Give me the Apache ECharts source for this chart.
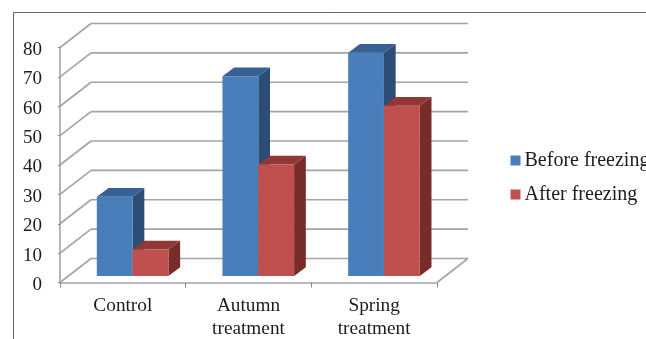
<!DOCTYPE html>
<html>
<head>
<meta charset="utf-8">
<style>html,body{margin:0;padding:0;background:#fff;overflow:hidden}#c{width:646px;height:339px;filter:blur(0.45px)}</style>
<script src="https://cdn.jsdelivr.net/npm/echarts@6/dist/echarts.min.js"></script>
</head>
<body>
<div id="c"></div>
<script>
const categories = ['Control', 'Autumn\ntreatment', 'Spring\ntreatment'];
const beforeFreezing = [27, 68, 76];
const afterFreezing = [9, 38, 58];
const yTicks = [0, 10, 20, 30, 40, 50, 60, 70, 80];

const WALL_DX = 31, WALL_DY = -24, BAR_DX = 9.8, BAR_DY = -6.5, DEPTH_DX = 11.7, DEPTH_DY = -8.7, BAR_RATIO = 0.285;
const GRID = '#a4a4a4';

function wallItem(params, api) {
  const cs = params.coordSys;
  const p = api.coord([0, api.value(0)]);
  const x0 = cs.x, y = p[1], x1 = cs.x + cs.width;
  const st = { stroke: GRID, lineWidth: 1.6 };
  const kids = [
    { type: 'line', shape: { x1: x0, y1: y, x2: x0 + WALL_DX, y2: y + WALL_DY }, style: st },
    { type: 'line', shape: { x1: x0 + WALL_DX, y1: y + WALL_DY, x2: x1 + WALL_DX, y2: y + WALL_DY }, style: st }
  ];
  if (api.value(0) === 0) {
    kids.push({ type: 'line', shape: { x1: x1, y1: y, x2: x1 + WALL_DX, y2: y + WALL_DY }, style: st });
  }
  return { type: 'group', children: kids };
}

function barRenderer(slot, front, top, side) {
  return function (params, api) {
    const base = api.coord([api.value(0), 0]);
    const head = api.coord([api.value(0), api.value(1)]);
    const w = api.size([1, 0])[0] * BAR_RATIO;
    const xl = base[0] + BAR_DX + (slot === 0 ? -w : 0);
    const xr = xl + w;
    const yb = base[1] + BAR_DY;
    const yt = head[1] + BAR_DY;
    return {
      type: 'group',
      children: [
        { type: 'polygon', shape: { points: [[xr, yt], [xr + DEPTH_DX, yt + DEPTH_DY], [xr + DEPTH_DX, yb + DEPTH_DY], [xr, yb]] }, style: { fill: side } },
        { type: 'polygon', shape: { points: [[xl, yt], [xl + DEPTH_DX, yt + DEPTH_DY], [xr + DEPTH_DX, yt + DEPTH_DY], [xr, yt]] }, style: { fill: top } },
        { type: 'rect', shape: { x: xl, y: yt, width: w, height: yb - yt }, style: { fill: front } }
      ]
    };
  };
}

const FONT = { fontFamily: 'Liberation Serif', color: '#1c1c1c' };
const chart = echarts.init(document.getElementById('c'), null, { renderer: 'canvas' });
chart.setOption({
  animation: false,
  backgroundColor: '#fff',
  grid: { left: 60, right: 209, top: 47.5, bottom: 56.5, containLabel: false, outerBoundsMode: 'none' },
  xAxis: {
    type: 'category', data: categories, boundaryGap: true,
    axisLine: { show: true, lineStyle: { color: GRID, width: 1.6 } },
    axisTick: { show: true, alignWithLabel: false, length: 5, lineStyle: { color: '#888', width: 1 } },
    axisLabel: { ...FONT, fontSize: 19.3, lineHeight: 23, margin: 12, interval: 0 }
  },
  yAxis: {
    type: 'value', min: 0, max: 80, interval: 10,
    splitLine: { show: false },
    axisLine: { show: true, lineStyle: { color: GRID, width: 1.6 } },
    axisTick: { show: true, length: 2, lineStyle: { color: '#888', width: 1 } },
    axisLabel: { ...FONT, fontSize: 19, margin: 18, verticalAlign: 'top', lineHeight: 5 }
  },
  legend: {
    left: 505.5, top: 145.5, orient: 'vertical', icon: 'rect',
    itemWidth: 10, itemHeight: 10, itemGap: 14,
    data: ['Before freezing', 'After freezing'],
    textStyle: { ...FONT, fontSize: 20, padding: [0, 0, 0, -1] }
  },
  series: [
    { type: 'custom', name: 'walls', silent: true, clip: false, z: 1, renderItem: wallItem, encode: { y: 0 }, data: yTicks.map(v => [v]) },
    { type: 'custom', name: 'Before freezing', clip: false, z: 2, itemStyle: { color: '#4a7ebb' },
      renderItem: barRenderer(0, '#4a7ebb', '#386193', '#2c4d75'), encode: { x: 0, y: 1 },
      data: beforeFreezing.map((v, i) => [i, v]) },
    { type: 'custom', name: 'After freezing', clip: false, z: 3, itemStyle: { color: '#c0504d' },
      renderItem: barRenderer(1, '#c0504d', '#8f3836', '#772c2a'), encode: { x: 0, y: 1 },
      data: afterFreezing.map((v, i) => [i, v]) }
  ],
  graphic: [
    { type: 'polyline', silent: true, shape: { points: [[13.5, 339], [13.5, 12.5], [646, 12.5]] }, style: { stroke: '#666', lineWidth: 1, fill: null } }
  ]
});
</script>
</body>
</html>
